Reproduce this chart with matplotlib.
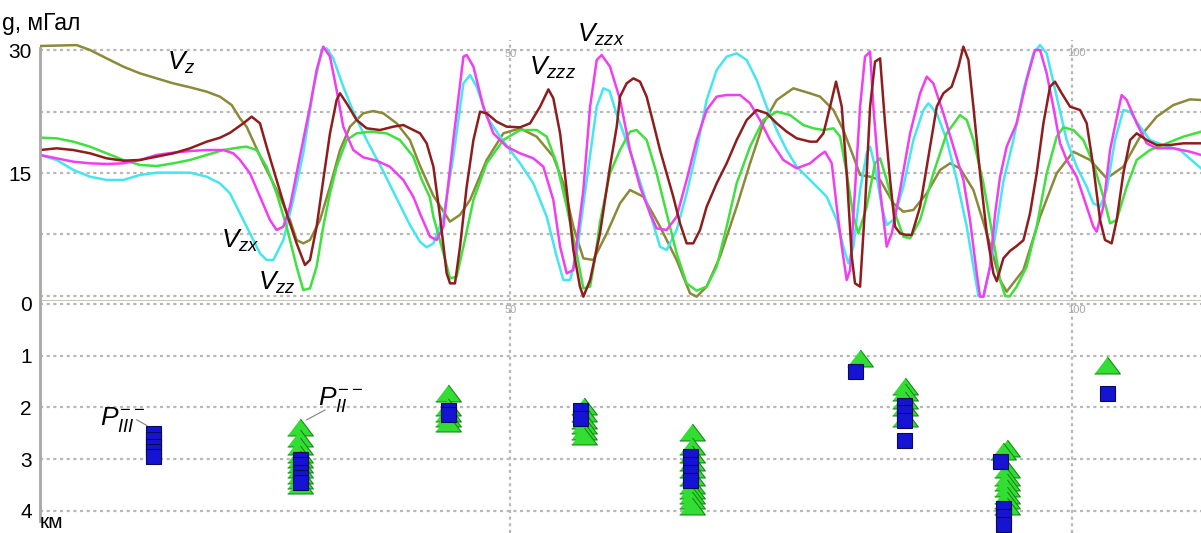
import numpy as np
import matplotlib
matplotlib.use("Agg")
import matplotlib.pyplot as plt

plt.rcParams['font.family'] = ['Liberation Sans', 'DejaVu Sans']
plt.rcParams['mathtext.fontset'] = 'custom'
plt.rcParams['mathtext.it'] = 'Liberation Sans:italic'
plt.rcParams['mathtext.rm'] = 'Liberation Sans'

# ---- gravity curves (km, mGal) ----
vz_x = [8.23, 11.49, 12.68, 14.16, 15.64, 17.13, 18.61, 20.09, 21.58, 23.06, 24.24, 25.28, 26.02,
        26.61, 28.10, 29.58, 30.47, 31.06, 31.65, 32.25, 33.14, 34.03, 34.92, 35.81, 36.99, 37.88,
        38.77, 39.96, 41.14, 42.0, 43.2, 44.7, 45.6, 46.49, 47.97, 49.45, 50.94, 52.42, 53.90, 54.79,
        55.68, 56.57, 57.46, 58.65, 59.83, 60.72, 61.91, 63.39, 64.87, 66.06, 66.65, 67.54, 68.73,
        70.21, 71.40, 72.58, 73.77, 75.25, 76.73, 77.63, 78.82, 79.7, 80.6, 81.19, 82.08, 82.97,
        84.15, 85.04, 85.93, 87.12, 88.31, 89.2, 90.08, 91.27, 92.46, 93.64, 94.23, 95.72, 97.2,
        98.68, 100.16, 101.65, 103.13, 104.61, 106.1, 107.58, 109.06, 110.54, 111.52]
vz_g = [30.49, 30.6, 30.0, 28.98, 27.97, 27.15, 26.54, 25.93, 25.45, 24.92, 24.31, 23.29, 21.67,
        20.65, 16.18, 12.11, 9.27, 6.83, 6.42, 6.83, 9.27, 13.33, 17.80, 20.65, 22.28, 22.56,
        22.28, 21.06, 19.02, 16.0, 12.3, 9.07, 9.9, 11.71, 16.59, 19.84, 20.45, 19.43, 16.99, 13.74,
        8.46, 4.59, 4.39, 7.64, 11.30, 12.93, 12.11, 8.46, 4.39, 0.33, -0.08, 1.14, 4.80,
        10.89, 16.18, 21.06, 23.90, 25.33, 24.72, 24.31, 22.68, 20.24, 16.99, 14.76, 14.55, 14.15,
        11.30, 10.28, 10.49, 12.52, 15.37, 16.18, 15.57, 12.93, 7.64, 1.95, 0.53, 3.17, 9.67,
        14.96, 17.6, 16.59, 14.35, 15.77, 19.43, 21.87, 23.29, 23.98, 23.9]

vzz_x = [8.23, 9.71, 11.2, 12.68, 14.16, 15.64, 17.13, 18.61, 20.09, 21.58, 23.06, 24.54, 26.02,
         26.61, 27.5, 28.39, 29.28, 30.17, 31.06, 31.65, 32.25, 32.84, 33.43, 34.03, 34.62, 35.51,
         36.4, 37.59, 39.07, 40.25, 41.44, 42.2, 42.92, 43.23, 44.12, 44.71, 45.3, 45.9, 46.79, 47.97,
         49.45, 50.94, 52.42, 53.31, 54.2, 55.09, 55.98, 56.57, 57.17, 57.6, 58.05, 58.94, 59.83,
         60.72, 61.31, 62.2, 63.09, 63.98, 64.87, 65.76, 66.65, 67.54, 68.43, 69.32, 70.21, 71.4,
         72.58, 73.77, 74.95, 76.14, 77.04, 77.93, 78.82, 79.41, 80.0, 80.6, 81.04, 81.78, 82.52,
         82.97, 83.56, 84.3, 85.04, 85.64, 86.53, 87.71, 88.9, 90.08, 90.68, 91.27, 92.16, 93.05,
         93.64, 94.1, 94.5, 95.12, 96.01, 96.9, 97.79, 98.68, 99.27, 100.16, 101.05, 101.94, 102.83,
         103.43, 104.02, 104.91, 105.8, 106.98, 108.47, 109.95, 111.52]
vzz_g = [19.31, 19.23, 18.82, 18.21, 17.4, 16.59, 15.98, 15.85, 16.18, 16.59, 17.2, 17.8, 18.13,
         18.21, 17.8, 15.77, 12.52, 8.46, 3.58, 0.73, 0.93, 3.58, 8.46, 12.52, 15.77, 19.02,
         19.84, 20.04, 19.84, 19.02, 16.99, 14.15, 12.0, 9.67, 5.2, 2.15, 2.36, 6.02, 11.71, 16.18,
         19.02, 20.24, 20.24, 19.43, 16.18, 10.89, 5.2, 0.93, 1.14, 4.5, 9.0, 14.96, 17.8,
         20.04, 20.24, 19.02, 14.96, 10.08, 5.2, 1.54, 0.65, 1.14, 3.58, 8.46, 13.74, 18.21,
         21.46, 22.48, 22.07, 20.85, 20.45, 20.24, 20.45, 19.43, 14.96, 9.67, 7.64, 10.89, 16.18,
         16.79, 14.15, 10.08, 7.24, 7.03, 9.27, 14.96, 19.84, 22.07, 21.46, 19.02, 13.74, 6.83,
         2.0, 0.0, -0.05, 1.14, 3.58, 8.46, 14.96, 19.43, 20.57, 20.24, 19.02, 16.18, 12.11,
         8.86, 9.27, 13.33, 16.59, 17.8, 18.62, 19.43, 20.04]

vzx_x = [8.23, 9.71, 11.2, 12.68, 14.16, 15.64, 17.13, 18.61, 20.09, 21.58, 23.06, 24.24, 25.13, 26.02,
         26.91, 27.8, 28.39, 28.99, 29.88, 30.76, 31.65, 32.54, 33.29, 33.73, 34.32, 35.21, 36.1,
         37.29, 38.48, 39.96, 41.14, 42.03, 42.63, 43.23, 44.12, 45.0, 45.9, 46.49, 47.08, 47.97,
         49.16, 50.05, 50.94, 52.12, 53.31, 54.2, 54.79, 55.39, 55.98, 56.87, 57.76, 58.35, 58.9,
         59.5, 61.0, 62.5, 63.4, 63.98, 64.87, 65.76, 66.65, 67.54, 68.43, 69.32, 70.21, 71.1, 71.99,
         72.88, 73.77, 74.66, 75.55, 77.04, 78.22, 79.11, 79.7, 80.15, 80.6, 81.19, 81.78, 82.08,
         82.52, 83.12, 83.56, 84.15, 85.04, 85.93, 86.82, 87.27, 88.01, 88.9, 89.79, 90.68, 91.27,
         91.72, 92.16, 92.75, 93.34, 93.94, 94.83, 95.72, 96.61, 97.2, 97.79, 98.68, 99.57, 100.46,
         101.35, 101.94, 102.54, 103.13, 103.87, 104.61, 105.21, 106.1, 106.98, 108.17, 109.65, 111.52]
vzx_g = [17.2, 16.59, 15.37, 14.55, 14.15, 14.15, 14.76, 15.04, 15.04, 15.04, 14.55, 13.74, 12.52, 10.08,
         7.64, 5.2, 4.39, 4.39, 6.83, 11.71, 17.4, 25.12, 30.0, 30.2, 28.98, 25.53, 22.48,
         19.02, 15.98, 11.91, 8.66, 6.63, 5.93, 6.42, 9.67, 16.99, 25.93, 26.95, 25.53, 21.87,
         19.43, 17.8, 16.18, 13.74, 9.67, 4.8, 1.95, 1.95, 5.2, 14.15, 23.09, 25.33, 25.0,
         22.3, 16.6, 10.1, 6.0, 5.61, 8.05, 12.52, 17.8, 23.9, 27.56, 29.19, 29.59, 28.78, 26.34,
         23.09, 20.24, 17.8, 15.77, 13.74, 12.11, 9.27, 6.02, 3.98, 6.02, 12.93, 17.4, 18.21,
         15.77, 10.89, 8.66, 9.27, 13.33, 19.02, 22.68, 23.5, 22.28, 19.02, 14.15, 8.46, 3.58,
         0.0, -0.08, 3.5, 8.5, 14.0, 19.02, 25.12, 29.59, 30.61, 29.59, 24.31, 19.02, 15.77,
         13.33, 11.3, 10.89, 12.93, 19.02, 22.68, 22.48, 20.65, 19.02, 18.41, 17.8, 15.57]

vzzx_x = [8.23, 9.71, 11.2, 12.68, 14.16, 15.64, 17.13, 18.61, 20.09, 21.58, 23.06, 24.54, 25.43, 26.02,
          26.91, 27.8, 28.69, 29.28, 29.88, 30.47, 31.06, 31.65, 32.25, 32.84, 33.43, 34.03, 34.62,
          35.21, 36.1, 36.99, 38.18, 39.36, 40.55, 41.44, 42.03, 42.93, 43.52, 44.12, 45.0, 45.9,
          46.19, 46.79, 47.67, 48.56, 49.75, 50.94, 52.12, 53.01, 53.9, 54.5, 55.09, 55.68, 56.57,
          57.17, 57.76, 58.2, 58.94, 59.83, 60.72, 61.61, 62.5, 63.09, 63.98, 64.87, 65.76, 66.65,
          67.54, 68.43, 69.32, 70.51, 71.4, 72.28, 73.17, 74.36, 75.55, 76.74, 77.63, 78.07, 78.67,
          79.11, 79.56, 80.0, 80.3, 80.74, 81.19, 81.63, 82.08, 82.37, 82.97, 83.56, 84.01, 84.75,
          85.64, 86.53, 87.12, 87.71, 88.6, 89.49, 90.38, 90.97, 91.57, 91.86, 92.16, 92.75, 93.2,
          93.64, 94.23, 95.12, 96.01, 96.75, 97.2, 97.79, 98.38, 98.98, 99.57, 100.46, 101.35, 101.94,
          102.24, 102.83, 103.43, 104.17, 104.46, 104.91, 105.8, 106.69, 107.58, 109.06, 110.54, 111.52]
vzzx_g = [17.2, 16.79, 16.38, 16.18, 16.1, 16.18, 16.59, 17.2, 17.48, 17.68, 17.8, 17.8, 17.4, 16.6,
          14.96, 12.11, 9.27, 8.05, 8.46, 10.89, 14.96, 19.02, 23.09, 27.56, 30.41, 29.19, 25.12,
          20.65, 17.8, 16.91, 16.5, 15.77, 14.15, 12.11, 10.08, 7.24, 6.83, 8.46, 19.02, 29.19,
          29.39, 27.97, 23.09, 19.84, 18.21, 17.4, 16.79, 15.77, 11.71, 6.02, 2.76, 3.17, 12.93,
          23.09, 28.78, 29.39, 27.97, 24.0, 17.8, 13.33, 10.08, 8.25, 8.05, 9.67, 14.15, 19.02,
          22.68, 24.31, 24.51, 24.51, 23.5, 21.46, 19.02, 16.59, 15.57, 16.18, 17.2, 17.6, 16.18,
          10.89, 6.02, 1.95, 3.17, 12.93, 23.09, 29.19, 29.8, 23.09, 12.93, 6.02, 7.64, 12.93,
          19.84, 24.72, 26.75, 25.93, 22.28, 18.21, 14.15, 9.27, 2.76, -0.08, -0.08, 3.58, 10.0,
          14.5, 18.21, 21.06, 26.34, 30.0, 30.0, 27.15, 23.09, 18.62, 16.59, 14.55, 10.89, 8.46,
          7.85, 10.89, 17.8, 22.68, 24.51, 23.9, 21.06, 18.62, 18.01, 18.01, 17.6, 17.2]

vzzz_x = [8.23, 9.71, 11.2, 12.68, 14.16, 15.64, 17.13, 18.61, 20.09, 21.58, 23.06, 24.24, 25.13,
          26.32, 27.06, 27.8, 28.39, 29.28, 30.17, 31.06, 31.8, 32.25, 32.84, 33.43, 34.03, 34.62,
          34.92, 35.51, 36.4, 37.29, 38.48, 39.66, 40.55, 41.44, 42.04, 42.63, 43.23, 43.82, 44.41,
          44.71, 45.15, 45.6, 46.19, 46.79, 47.38, 47.97, 48.86, 49.75, 50.94, 51.83, 52.72, 53.46,
          53.9, 54.5, 55.09, 55.68, 56.27, 56.57, 57.17, 58.05, 58.94, 59.54, 59.83, 60.42, 61.02,
          61.61, 62.2, 62.8, 63.39, 63.98, 64.57, 65.17, 65.76, 66.35, 66.95, 67.54, 68.43, 69.32,
          70.21, 71.1, 71.99, 72.88, 73.77, 74.66, 75.55, 76.74, 77.33, 77.93, 78.52, 79.05, 79.56,
          80.0, 80.45, 80.74, 81.19, 81.63, 82.08, 82.52, 82.97, 83.41, 83.86, 84.3, 84.75, 85.34,
          85.78, 86.53, 87.42, 88.01, 88.6, 89.34, 89.94, 90.38, 90.83, 91.27, 91.86, 92.46, 93.05,
          93.35, 93.94, 94.53, 95.12, 95.72, 96.31, 96.9, 97.5, 98.09, 98.53, 99.13, 99.87, 100.76,
          101.35, 101.94, 102.54, 102.98, 103.57, 104.02, 104.61, 105.21, 105.8, 106.69, 107.58,
          108.77, 109.95, 111.52]
vzzz_g = [17.8, 18.01, 17.8, 17.4, 16.79, 16.5, 16.59, 16.99, 17.4, 18.01, 18.82, 19.3, 19.9,
          21.06, 21.87, 21.06, 18.21, 14.15, 10.08, 6.42, 3.78, 4.39, 8.46, 14.15, 19.84, 23.9,
          24.72, 23.5, 21.46, 20.45, 20.24, 20.65, 20.85, 20.24, 19.84, 18.62, 15.77, 9.67, 2.76,
          1.54, 1.54, 6.02, 13.33, 19.02, 22.48, 22.28, 21.26, 20.65, 20.57, 21.06, 23.09, 25.2,
          24.11, 19.84, 12.93, 5.61, 1.14, -0.08, 1.95, 7.64, 15.77, 20.65, 24.31, 25.93, 26.54,
          26.14, 24.31, 21.06, 17.8, 14.96, 12.11, 8.86, 6.42, 6.42, 8.05, 10.89, 13.74, 16.18,
          19.02, 21.46, 22.68, 22.28, 21.06, 20.04, 19.23, 18.82, 18.82, 19.84, 23.09, 26.14, 23.09,
          14.96, 4.8, 1.54, 1.14, 10.89, 23.09, 28.58, 28.98, 21.06, 14.15, 8.46, 7.64, 7.44,
          7.44, 10.89, 18.21, 23.09, 24.72, 25.53, 27.97, 30.41, 28.78, 23.09, 14.96, 7.64, 2.76,
          1.8, 4.6, 5.5, 6.1, 6.8, 10.08, 14.96, 21.06, 25.53, 26.14, 24.72, 23.09, 22.68,
          21.06, 15.77, 9.27, 6.83, 6.42, 9.27, 14.96, 19.02, 19.84, 19.02, 18.41,
          18.41, 18.62, 18.62]

# ---- source depths (km) ----
tri_x = [31.36] * 10 + [44.55] * 5 + [56.6] * 6 + [66.2] * 11 + [81.18] + [85.19] * 5 \
        + [94.24, 93.9, 94.24, 94.24, 94.24, 94.24, 94.24, 94.24, 94.24] + [103.13]
tri_d = [2.38, 2.6, 2.75, 2.9, 3.0, 3.1, 3.2, 3.3, 3.4, 3.5,
         1.72, 2.0, 2.1, 2.2, 2.3,
         1.98, 2.1, 2.25, 2.35, 2.45, 2.55,
         2.48, 2.75, 2.9, 3.05, 3.2, 3.35, 3.5, 3.6, 3.7, 3.8, 3.9,
         1.05,
         1.58, 1.7, 1.85, 2.0, 2.2,
         2.78, 2.85, 3.2, 3.35, 3.45, 3.55, 3.7, 3.8, 3.9,
         1.18]
sq_x = [18.28] * 5 + [31.36] * 5 + [44.55] * 2 + [56.3] * 2 + [66.1] * 4 + [80.74] + [85.1] * 4 \
       + [93.64, 93.9, 93.9, 93.9] + [103.13]
sq_d = [2.5, 2.62, 2.75, 2.85, 2.95,
        3.0, 3.1, 3.25, 3.35, 3.45,
        2.05, 2.12,
        2.05, 2.2,
        2.95, 3.1, 3.25, 3.4,
        1.29,
        1.95, 2.08, 2.25, 2.64,
        3.03, 3.95, 4.1, 4.25,
        1.73]

W, H = 1201, 533
fig = plt.figure(figsize=(W / 100, H / 100), dpi=100)
ax1 = fig.add_axes([40 / W, 1 - 301 / H, 1161 / W, 261 / H])
ax2 = fig.add_axes([40 / W, 0, 1161 / W, 232 / H])

grid_kw = dict(color='#b8b8b8', linestyle=(0, (1.4, 1.6)), linewidth=1.6)
for ax in (ax1, ax2):
    ax.set_xlim(8.23, 111.52)
    ax.set_xticks([50, 100])
    ax.set_xticklabels([])
    ax.grid(True, **grid_kw)
    ax.set_axisbelow(True)
    ax.tick_params(length=0, labelsize=15, pad=6)
    for s in ('top', 'right', 'bottom'):
        ax.spines[s].set_visible(False)
    ax.spines['left'].set_color('#a8a8a8')
    ax.spines['left'].set_linewidth(2)

ax1.set_ylim(-0.61, 31.22)
ax1.set_yticks([0, 7.5, 15, 22.5, 30])
ax1.set_yticklabels(['', '', '15', '', '30'])
ax1.spines['bottom'].set_visible(True)
ax1.spines['bottom'].set_color('#c6c6b6')
ax1.spines['bottom'].set_linewidth(2.2)
ax1.spines['left'].set_bounds(-0.61, 30.2)

ax2.set_ylim(4.43, -0.058)
ax2.set_yticks([0, 1, 2, 3, 4])
ax2.spines['left'].set_bounds(4.2, -0.058)

lw = 1.8
ax1.plot(vz_x, vz_g, color='#8c8a3a', lw=lw)
ax1.plot(vzx_x, vzx_g, color='#45e6ef', lw=lw)
ax1.plot(vzz_x, vzz_g, color='#3fe03f', lw=lw)
ax1.plot(vzzx_x, vzzx_g, color='#f03ef0', lw=lw)
ax1.plot(vzzz_x, vzzz_g, color='#8e1e1e', lw=lw)

lab = dict(fontsize=19, color='black', va='baseline')
ax1.text(19.5, 27.56, r'$V_z$', **lab)
ax1.text(24.3, 5.85, r'$V_{zx}$', **lab)
ax1.text(27.6, 0.73, r'$V_{zz}$', **lab)
ax1.text(51.7, 26.95, r'$V_{zzz}$', **lab)
ax1.text(56.0, 30.98, r'$V_{zzx}$', **lab)

tri = [(-1, -0.66), (1, -0.66), (0, 0.66)]
ax2.plot(tri_x, tri_d, linestyle='none', marker=tri, markersize=18.5,
         markerfacecolor='#33dd33', markeredgecolor='#148a14', markeredgewidth=0.8)
ax2.plot(sq_x, sq_d, linestyle='none', marker='s', markersize=10.8,
         markerfacecolor='#1414d2', markeredgecolor='#0a0a55', markeredgewidth=0.8)

ax2.text(13.6, 2.34, r'$P_{III}^{--}$', fontsize=19, va='baseline')
ax2.text(33.0, 1.95, r'$P_{II}^{--}$', fontsize=19, va='baseline')
ax2.plot([16.84, 17.73], [2.24, 2.35], color='#808080', lw=0.8)
ax2.plot([33.59, 31.96], [2.05, 2.24], color='#808080', lw=0.8)

small = dict(fontsize=8, color='#a8a8a8', ha='center', va='center')
ax1.text(50.1, 29.5, '50', **small)
ax1.text(100.4, 29.6, '100', **small)
ax2.text(50.1, 0.12, '50', **small)
ax2.text(100.4, 0.12, '100', **small)

fig.text(2 / W, 1 - 30 / H, 'g, мГал', fontsize=16.5, va='baseline')
fig.text(40 / W, 1 - 528 / H, 'км', fontsize=15, va='baseline')

fig.savefig('out.png', dpi=100)
